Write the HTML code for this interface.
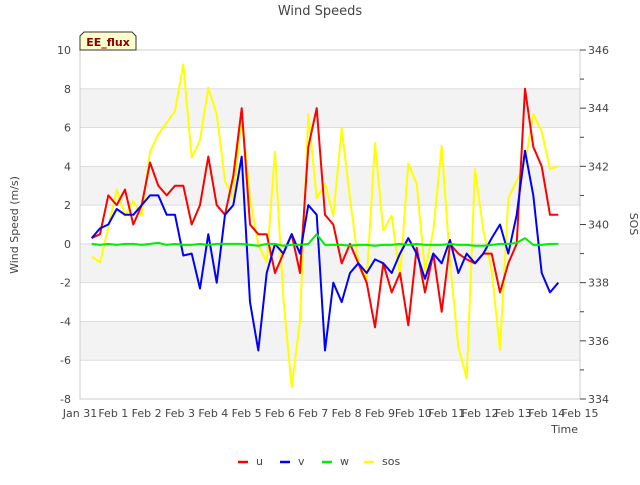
<!DOCTYPE html>
<html><head><meta charset="utf-8"><style>
body{margin:0;background:#fff;font-family:"Liberation Sans","DejaVu Sans",sans-serif}
svg text{font-family:"DejaVu Sans","Liberation Sans",sans-serif}
</style></head><body>
<svg id="c" width="640" height="480" xmlns="http://www.w3.org/2000/svg">
<rect width="640" height="480" fill="#fff"/>
<g id="bands"></g>
<g id="grid"></g>
<rect x="80" y="50" width="500" height="349" fill="none" stroke="#ccc"/>
<g id="series"></g>
<g id="axes"></g>
<text x="320" y="15" text-anchor="middle" font-size="13" fill="#444">Wind Speeds</text>
<g>
<path d="M80,50 L80,36 L84,32 L132,32 L136,36 L136,50 Z" fill="#ffffcc" stroke="#333" stroke-width="1"/>
<text x="108" y="46" text-anchor="middle" font-size="11" font-weight="bold" fill="#8b0000">EE_flux</text>
</g>
<text x="18" y="225" transform="rotate(-90 18 225)" text-anchor="middle" font-size="11" fill="#444">Wind Speed (m/s)</text>
<text x="630" y="224" transform="rotate(90 630 224)" text-anchor="middle" font-size="11" fill="#444">SOS</text>
<text x="578" y="433" text-anchor="end" font-size="11" fill="#444">Time</text>
<g id="legend"></g>
</svg>
<script>
const times=[];for(let i=0;i<57;i++)times.push(0.35+i*0.25);
const uVals=[0.3,0.5,2.5,2.0,2.8,1.0,2.0,4.2,3.0,2.5,3.0,3.0,1.0,2.0,4.5,2.0,1.5,3.5,7.0,1.0,0.5,0.5,-1.5,-0.5,0.5,-1.5,5.0,7.0,1.5,1.0,-1.0,0,-1.0,-2.0,-4.3,-1.0,-2.5,-1.5,-4.2,-0.2,-2.5,-0.5,-3.5,0,-0.5,-0.8,-1.0,-0.5,-0.5,-2.5,-1.0,0,8.0,5.0,4.0,1.5,1.5];
const vVals=[0.3,0.8,1.0,1.8,1.5,1.5,2.0,2.5,2.5,1.5,1.5,-0.6,-0.5,-2.3,0.5,-2.0,1.5,2.0,4.5,-3.0,-5.5,-1.5,0,-0.5,0.5,-0.5,2.0,1.5,-5.5,-2.0,-3.0,-1.5,-1.0,-1.5,-0.8,-1.0,-1.5,-0.5,0.3,-0.5,-1.8,-0.5,-1.0,0.2,-1.5,-0.5,-1.0,-0.5,0.3,1.0,-0.5,1.5,4.8,2.5,-1.5,-2.5,-2.0];
const wVals=[0,-0.05,0,-0.05,0,0,-0.05,0,0.05,-0.05,0,-0.05,-0.05,0,-0.05,0,0,0,0,-0.05,-0.1,0,0,-0.1,-0.05,-0.05,0,0.5,-0.05,-0.05,-0.05,-0.1,-0.05,-0.05,-0.1,-0.05,-0.05,0,-0.05,0,-0.05,-0.05,-0.05,0,-0.05,-0.05,-0.1,-0.1,-0.05,0,0,0.05,0.3,-0.05,-0.05,0,0];
const sosVals=[338.9,338.7,339.9,341.2,340.3,340.8,340.3,342.5,343.1,343.5,343.9,345.5,342.3,342.9,344.7,343.8,341.5,340.9,343.8,340.9,339.3,338.7,342.5,337.5,334.4,336.7,343.8,340.9,341.4,340.3,343.3,340.9,338.7,338.1,342.8,339.8,340.3,338.2,342.1,341.4,338.4,339.8,342.7,338.7,335.8,334.7,341.9,339.8,338.4,335.7,340.9,341.5,342.1,343.8,343.2,341.9,342.0];
const xLabels=["Jan 31","Feb 1","Feb 2","Feb 3","Feb 4","Feb 5","Feb 6","Feb 7","Feb 8","Feb 9","Feb 10","Feb 11","Feb 12","Feb 13","Feb 14","Feb 15"];
const yTicks=[10,8,6,4,2,0,-2,-4,-6,-8];
const y2Ticks=[346,344,342,340,338,336,334];
const NS="http://www.w3.org/2000/svg";
const X=t=>80+t*500/15, Y=v=>50+(10-v)*349/18, Y2=v=>50+(346-v)*349/12;
function mk(tag,at,p){const e=document.createElementNS(NS,tag);for(const k in at)e.setAttribute(k,at[k]);p.appendChild(e);return e;}
const bands=document.getElementById('bands'),grid=document.getElementById('grid'),axes=document.getElementById('axes'),ser=document.getElementById('series'),leg=document.getElementById('legend');
[[8,6],[4,2],[0,-2],[-4,-6]].forEach(b=>{const r=mk('rect',{x:80,y:Y(b[0]),width:500,height:Y(b[1])-Y(b[0]),fill:'#f3f3f3'},bands);

});
yTicks.forEach(v=>{const l=mk('line',{x1:80,x2:580,y1:Y(v),y2:Y(v),stroke:'#ddd'},grid);


const t=mk('text',{x:71,y:Y(v)+4,'text-anchor':'end','font-size':11,fill:'#444'},axes);t.textContent=v;

});
for(let v=334;v<=346;v++){const tk=mk('line',{x1:580,x2:v%2?584:586,y1:Y2(v),y2:Y2(v),stroke:'#444'},axes);

}
y2Ticks.forEach(v=>{const t=mk('text',{x:588,y:Y2(v)+4,'font-size':11,fill:'#444'},axes);t.textContent=v;

});
xLabels.forEach((s,i)=>{const t=mk('text',{x:X(i),y:417,'text-anchor':'middle','font-size':11,fill:'#444'},axes);t.textContent=s;

});
function line(vals,f,col,name){const d=vals.map((v,i)=>(i?'L':'M')+X(times[i]).toFixed(1)+','+f(v).toFixed(1)).join('');
const p=mk('path',{d:d,fill:'none',stroke:col,'stroke-width':2,'stroke-linejoin':'round'},ser);

}
line(sosVals,Y2,'#ffff00','sos-line');
line(uVals,Y,'#ff0000','u-line');
line(vVals,Y,'#0000ff','v-line');
line(wVals,Y,'#00ee00','w-line');
[['u','#ff0000',238],['v','#0000ff',280],['w','#00ee00',322],['sos','#ffff00',364]].forEach(e=>{
const g=mk('g',{},leg);


mk('line',{x1:e[2],x2:e[2]+10,y1:462,y2:462,stroke:e[1],'stroke-width':2.5},g);
const t=mk('text',{x:e[2]+18,y:465,'font-size':11,fill:'#444'},g);t.textContent=e[0];});
</script>
</body></html>
